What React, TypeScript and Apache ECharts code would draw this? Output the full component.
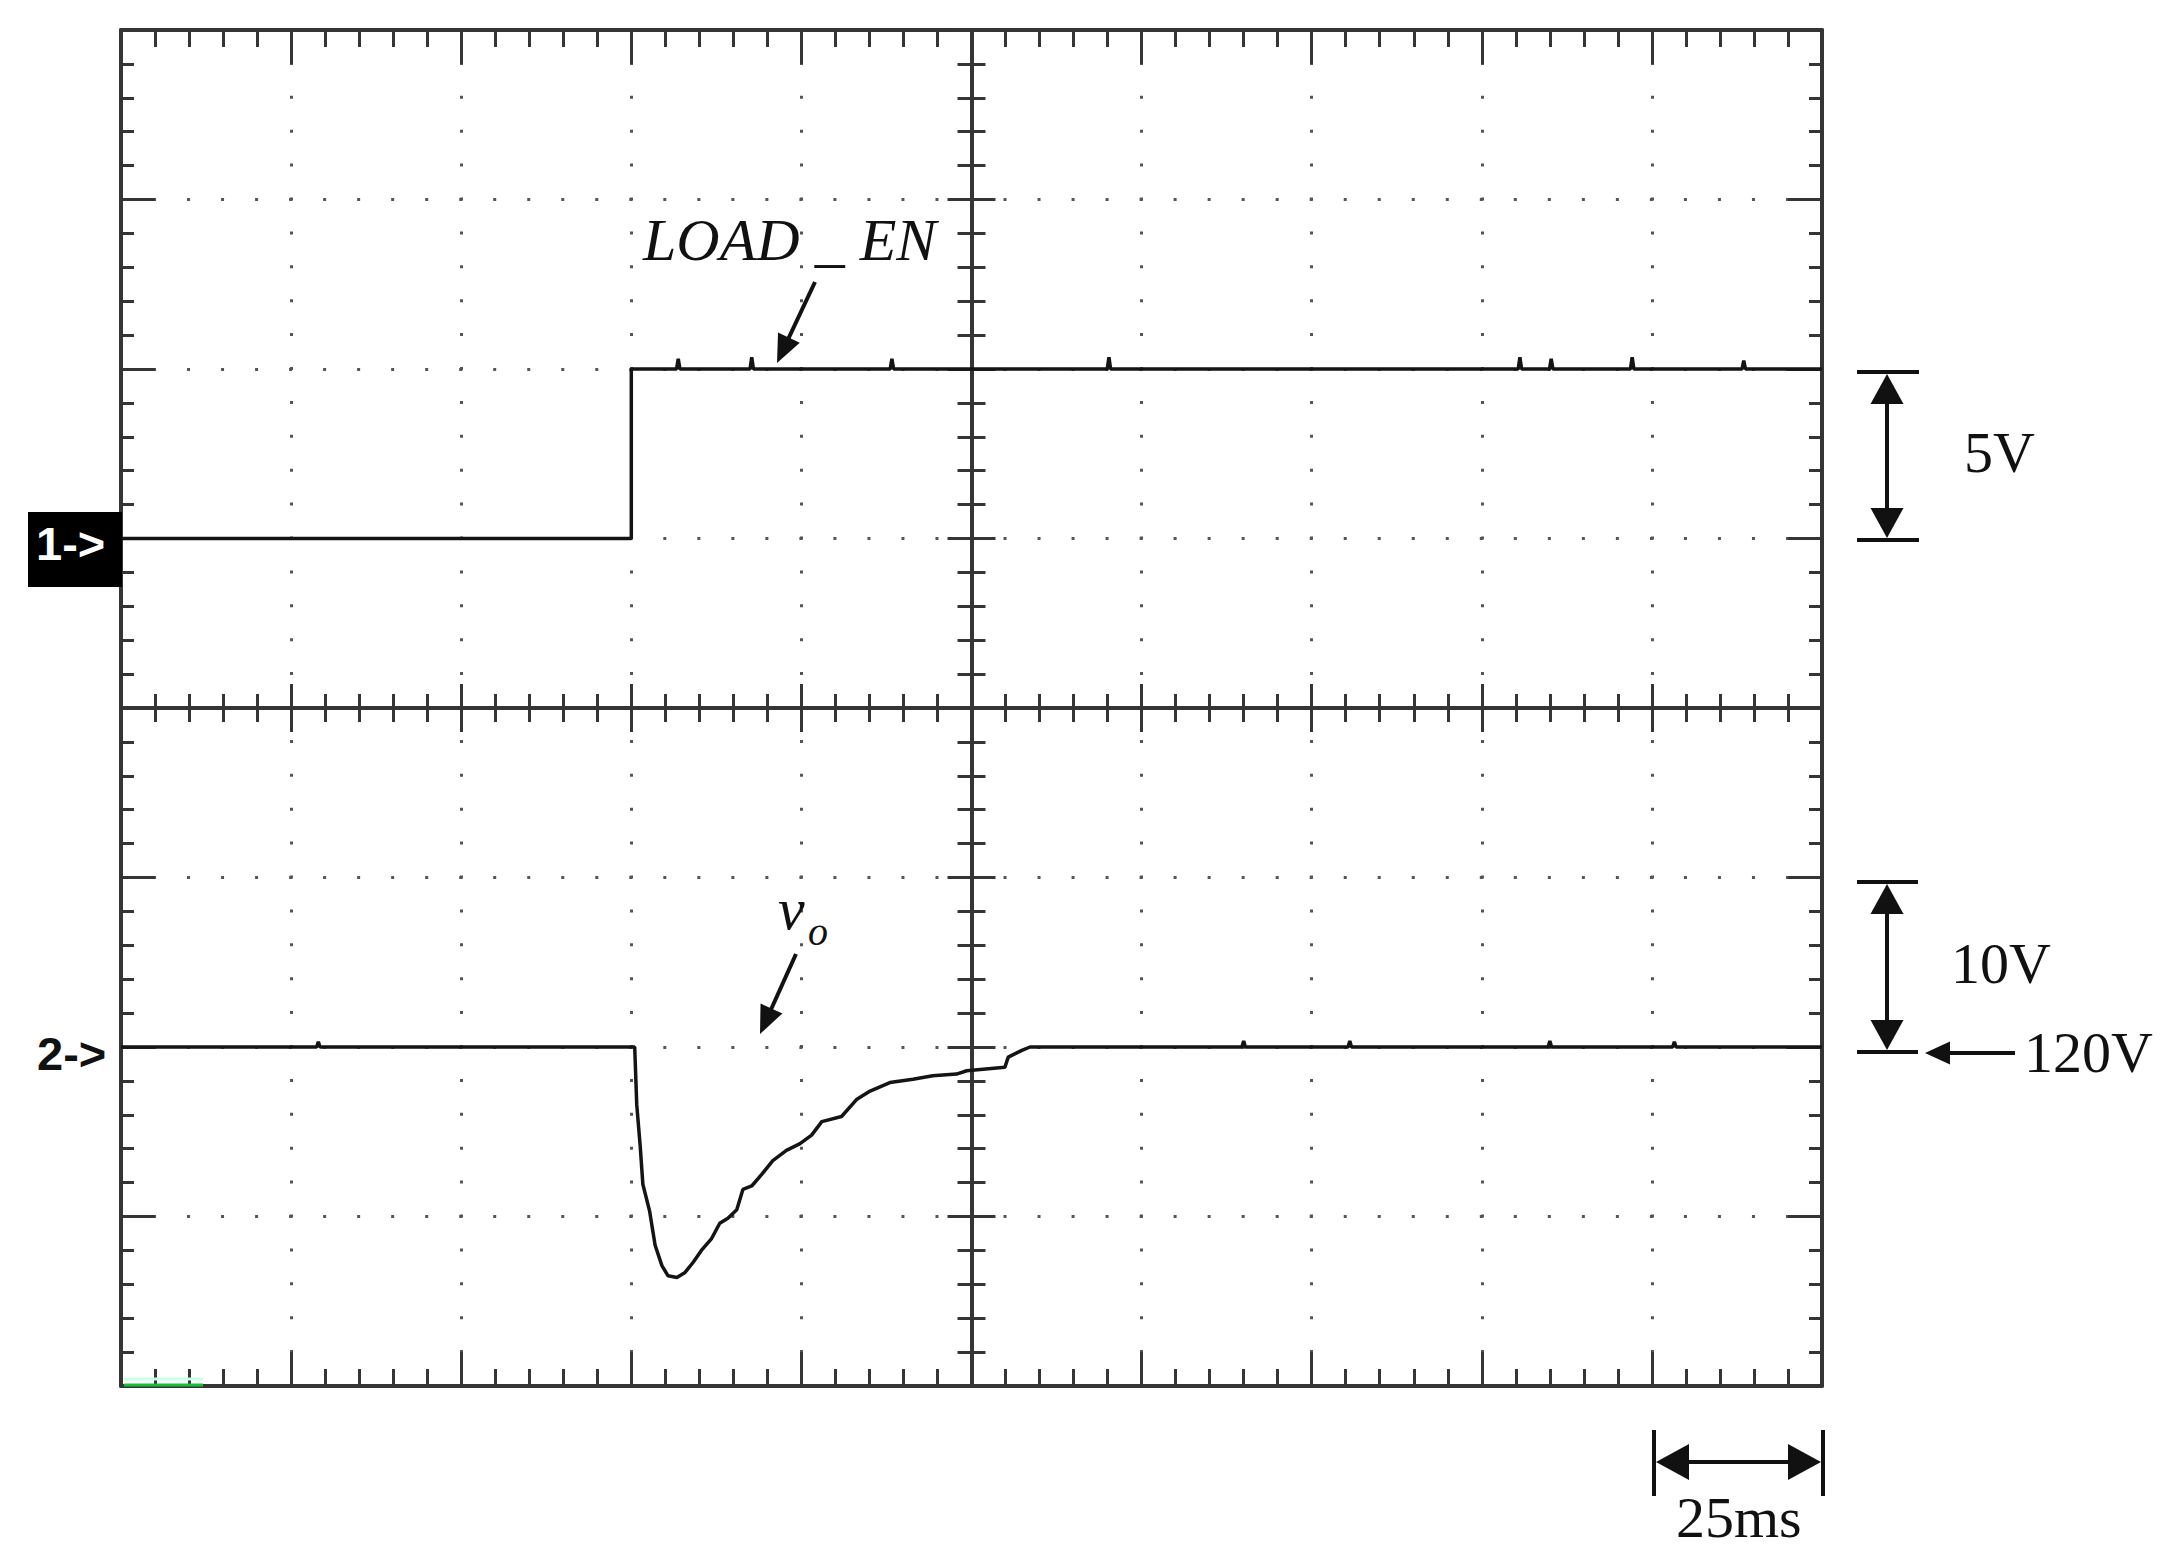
import React, { useEffect, useRef } from 'react';
import * as echarts from 'echarts';

// ---- axis scales (oscilloscope settings) ----
const timeMin = 0;
const timeMax = 250;
const timePerDiv = 25; // ms / div
const ch1Min = -25;
const ch1Max = 15;
const ch1PerDiv = 5; // V / div, "1->" ground at 0 V
const ch2Min = 100;
const ch2Max = 180;
const ch2PerDiv = 10; // V / div, "2->" reference at 120 V

// ---- channel 1 : LOAD_EN (V) ----
const ch1Times = [0, 75, 75, 250];
const ch1Volts = [0, 0, 5, 5];
const ch1GlitchTimes = [81.9, 92.7, 113.3, 145.2, 205.6, 210.2, 222.1, 238.5];
const ch1GlitchAmps = [0.3, 0.35, 0.3, 0.35, 0.35, 0.3, 0.35, 0.25];

// ---- channel 2 : vo (V) ----
const ch2Times = [0, 75.5, 75.8, 76.3, 76.7, 77.7, 78.5, 79.5, 80.4, 81.7, 82.9, 84.1, 85.3, 86.8, 88.0, 89.2, 90.5, 91.4, 92.7, 94.2, 95.8, 97.8, 99.8, 101.5, 103.0, 105.9, 108.1, 110.1, 113.0, 116.4, 119.3, 122.8, 124.3, 129.9, 130.4, 132.4, 133.6, 250];
const ch2Volts = [120, 120, 116.6, 114.2, 111.9, 110.3, 108.3, 107.1, 106.5, 106.4, 106.7, 107.3, 108.0, 108.7, 109.6, 109.9, 110.4, 111.6, 111.8, 112.5, 113.3, 113.9, 114.3, 114.8, 115.6, 115.9, 116.9, 117.4, 117.9, 118.1, 118.3, 118.4, 118.6, 118.8, 119.4, 119.8, 120, 120];
const ch2GlitchTimes = [29.0, 165.0, 180.6, 210.0, 228.3];
const ch2GlitchAmps = [0.3, 0.35, 0.35, 0.35, 0.3];

// ---- texts ----
const ch1Name = 'LOAD _ EN';
const ch2Name = 'v';
const ch2Sub = 'o';
const ch1Marker = '1->';
const ch2Marker = '2->';
const ch1ScaleText = '5V';
const ch2ScaleText = '10V';
const ch2RefText = '120V';
const timeScaleText = '25ms';

function buildSeries(times: number[], volts: number[], gT: number[], gA: number[], base: number) {
  const pts: number[][] = times.map((t, i) => [t, volts[i]]);
  gT.forEach((t, i) => {
    pts.push([t - 0.25, base], [t, base + gA[i]], [t + 0.25, base]);
  });
  return pts.sort((a, b) => a[0] - b[0]);
}

const GRID = { left: 121, top: 30, width: 1701, height: 1356 };
const AXIS = '#353535';
const INK = '#111';
const DOT = '#555';
const dx = GRID.width / 50;
const dy = GRID.height / 40;

function xAxisOpt(position: string, inside: boolean, major: number, minor: number, offset: number, split: boolean) {
  return {
    type: 'value', position, offset, min: timeMin, max: timeMax, interval: timePerDiv,
    axisLine: { show: true, onZero: false, lineStyle: { color: AXIS, width: 4 } },
    axisTick: { show: true, inside, length: major, lineStyle: { color: AXIS, width: 3 } },
    minorTick: { show: true, splitNumber: 5, length: minor, lineStyle: { color: AXIS, width: 3 } },
    axisLabel: { show: false },
    splitLine: split
      ? { show: true, lineStyle: { color: DOT, width: 3, type: [3, dy - 3], dashOffset: 1.5 } }
      : { show: false },
    minorSplitLine: { show: false },
  };
}

function yAxisOpt(position: string, inside: boolean, major: number, minor: number, offset: number, split: boolean, min: number, max: number, interval: number) {
  return {
    type: 'value', position, offset, min, max, interval,
    axisLine: { show: true, onZero: false, lineStyle: { color: AXIS, width: 4 } },
    axisTick: { show: true, inside, length: major, lineStyle: { color: AXIS, width: 3 } },
    minorTick: { show: true, splitNumber: 5, length: minor, lineStyle: { color: AXIS, width: 3 } },
    axisLabel: { show: false },
    splitLine: split
      ? { show: true, lineStyle: { color: DOT, width: 3, type: [3, dx - 3], dashOffset: 1.5 } }
      : { show: false },
    minorSplitLine: { show: false },
  };
}

function arrow(fx: number, fy: number, tx: number, ty: number, headLen: number, headW: number, lw: number) {
  const vx = tx - fx, vy = ty - fy;
  const L = Math.hypot(vx, vy);
  const ux = vx / L, uy = vy / L;
  const bx = tx - ux * headLen, by = ty - uy * headLen;
  const px = -uy, py = ux;
  return [
    { type: 'line', z: 100, silent: true, shape: { x1: fx, y1: fy, x2: bx + ux * 2, y2: by + uy * 2 }, style: { stroke: INK, lineWidth: lw } },
    { type: 'polygon', z: 100, silent: true, shape: { points: [[tx, ty], [bx + px * headW / 2, by + py * headW / 2], [bx - px * headW / 2, by - py * headW / 2]] }, style: { fill: INK } },
  ];
}

function hline(x1: number, x2: number, y: number, lw: number, color = INK) {
  return { type: 'line', z: 100, silent: true, shape: { x1, y1: y, x2, y2: y }, style: { stroke: color, lineWidth: lw } };
}
function vline(x: number, y1: number, y2: number, lw: number) {
  return { type: 'line', z: 100, silent: true, shape: { x1: x, y1, x2: x, y2 }, style: { stroke: INK, lineWidth: lw } };
}
function text(t: string, x: number, y: number, size: number, family: string, opts: any = {}) {
  return {
    type: 'text', z: 110, silent: true, x, y,
    style: {
      text: t, fontSize: size, fontFamily: family, fontStyle: opts.italic ? 'italic' : 'normal',
      fontWeight: opts.bold ? 'bold' : 'normal',
      fill: opts.fill || INK, textAlign: opts.align || 'left', textVerticalAlign: 'middle',
      align: opts.align || 'left', verticalAlign: 'middle',
    },
  };
}

export default function App() {
  const ref = useRef<HTMLDivElement>(null);
  useEffect(() => {
    if (!ref.current) return;
    const chart = echarts.init(ref.current, null, { renderer: 'svg' });
    const ch1Data = buildSeries(ch1Times, ch1Volts, ch1GlitchTimes, ch1GlitchAmps, 5);
    const ch2Data = buildSeries(ch2Times, ch2Volts, ch2GlitchTimes, ch2GlitchAmps, 120);
    const serif = '"Liberation Serif", "Times New Roman", serif';
    const sans = '"Liberation Sans", Arial, sans-serif';

    const graphic: any[] = [
      // channel markers
      { type: 'rect', z: 100, silent: true, shape: { x: 28, y: 512, width: 94, height: 75 }, style: { fill: '#000' } },
      text(ch1Marker, 36, 543, 47, sans, { fill: '#fff', bold: true }),
      text(ch2Marker, 37, 1053, 47, sans, { bold: true }),
      // trace names
      text(ch1Name, 643, 240, 60, serif, { italic: true }),
      ...arrow(815, 282, 777, 363, 28, 24, 4),
      text(ch2Name, 778, 909, 60, serif, { italic: true }),
      text(ch2Sub, 808, 931, 40, serif, { italic: true }),
      ...arrow(796, 954, 760, 1034, 28, 24, 4),
      // 5V bracket
      hline(1857, 1919, 372, 4),
      hline(1857, 1919, 540, 4),
      ...arrow(1887, 456, 1887, 374, 30, 33, 4),
      ...arrow(1887, 456, 1887, 538, 30, 33, 4),
      text(ch1ScaleText, 1964, 452, 58, serif),
      // 10V bracket
      hline(1857, 1918, 882, 4),
      hline(1857, 1918, 1052, 4),
      ...arrow(1887, 967, 1887, 884, 30, 33, 4),
      ...arrow(1887, 967, 1887, 1050, 30, 33, 4),
      text(ch2ScaleText, 1951, 963, 58, serif),
      // 120V reference arrow
      ...arrow(2015, 1053, 1925, 1053, 25, 23, 4),
      text(ch2RefText, 2024, 1052, 58, serif),
      // 25ms bracket
      vline(1654, 1430, 1496, 4),
      vline(1823, 1430, 1496, 4),
      ...arrow(1738, 1462, 1656, 1462, 33, 36, 4),
      ...arrow(1738, 1462, 1821, 1462, 33, 36, 4),
      text(timeScaleText, 1676, 1517, 58, serif),
      // green trigger marker on the bottom edge
      hline(124, 203, 1379, 3, '#c8ffe6'),
      hline(124, 203, 1385, 3, '#16c23a'),
    ];

    chart.setOption({
      animation: false,
      backgroundColor: '#ffffff',
      grid: { left: GRID.left, top: GRID.top, width: GRID.width, height: GRID.height, containLabel: false },
      xAxis: [
        xAxisOpt('bottom', true, 34, 17, 0, true),
        xAxisOpt('top', true, 34, 17, 0, false),
        xAxisOpt('bottom', true, 24, 14, -GRID.height / 2, false),
        xAxisOpt('bottom', false, 24, 14, -GRID.height / 2, false),
      ],
      yAxis: [
        yAxisOpt('left', true, 34, 13, 0, true, ch1Min, ch1Max, ch1PerDiv),
        yAxisOpt('right', true, 34, 13, 0, false, ch2Min, ch2Max, ch2PerDiv),
        yAxisOpt('left', true, 24, 14, -GRID.width / 2, false, ch1Min, ch1Max, ch1PerDiv),
        yAxisOpt('left', false, 24, 14, -GRID.width / 2, false, ch1Min, ch1Max, ch1PerDiv),
      ],
      series: [
        {
          name: 'LOAD_EN', type: 'line', xAxisIndex: 0, yAxisIndex: 0, data: ch1Data,
          symbol: 'none', showSymbol: false, silent: true, z: 5,
          lineStyle: { color: '#141414', width: 3.5 },
        },
        {
          name: 'vo', type: 'line', xAxisIndex: 0, yAxisIndex: 1, data: ch2Data,
          symbol: 'none', showSymbol: false, silent: true, z: 5,
          lineStyle: { color: '#141414', width: 3.5 },
        },
      ],
      graphic,
    });
    return () => chart.dispose();
  }, []);
  return (
    <div style={{ position: 'fixed', left: 0, top: 0, width: 2175, height: 1550, background: '#fff' }}>
      <div ref={ref} style={{ width: 2175, height: 1550 }} />
    </div>
  );
}
